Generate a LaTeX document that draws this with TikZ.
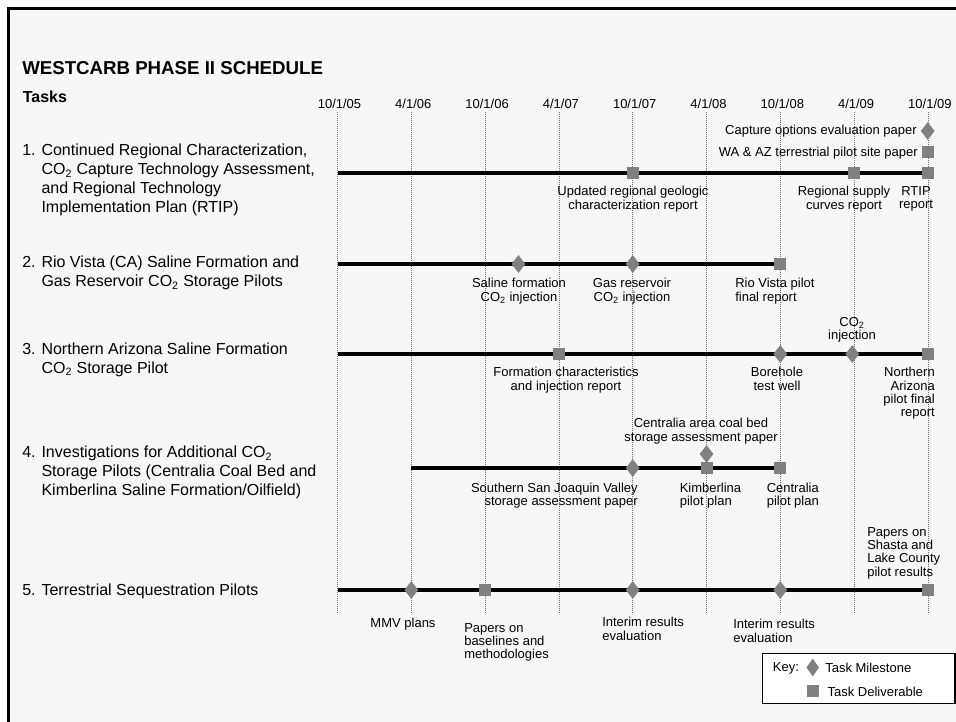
\documentclass[tikz,border=0pt]{standalone}
\usepackage{fontspec}
\setmainfont{Liberation Sans}
\usepackage{xcolor}
\usepackage{tikz}
\usetikzlibrary{shapes.geometric, positioning}
\definecolor{mygrey}{RGB}{128,128,128}
\definecolor{mygrid}{RGB}{110,110,110}
\definecolor{mybg}{RGB}{247,247,247}
\tikzset{
  milestone/.style={diamond, fill=mygrey, draw=none, inner sep=0pt,
    minimum width=10.5pt, minimum height=13.5pt},
  deliverable/.style={rectangle, fill=mygrey, draw=none, inner sep=0pt,
    minimum size=9pt},
  taskbar/.style={line width=2.3pt, color=black},
  gridline/.style={mygrid, line width=0.5pt, dash pattern=on 0.6pt off 0.9pt},
  datelbl/.style={font=\fontsize{9.75}{10}\selectfont, inner sep=0pt},
  lbl/.style={font=\fontsize{9.75}{10}\selectfont, inner sep=0pt, align=center},
  tasklbl/.style={font=\fontsize{12}{14.25}\selectfont, inner sep=0pt,
    align=left, anchor=north west}
}
\newcommand{\cotwo}{CO\textsubscript{2}}

\begin{document}
\begin{tikzpicture}[x=0.75pt, y=-0.75pt]
  \useasboundingbox (0,0) rectangle (956,721);
  \clip (0,0) rectangle (956,721);

  % Frame
  \fill[white] (0,0) rectangle (956,721);
  \fill[mybg] (8.5,8.5) rectangle (980,740);
  \draw[line width=2.4pt] (980,8.5) -- (8.5,8.5) -- (8.5,740);

  % Headings
  \node[anchor=west, inner sep=0pt, font=\fontsize{14}{16}\selectfont\bfseries] (title) at (22,68) {WESTCARB PHASE II SCHEDULE};
  \node[anchor=west, inner sep=0pt, font=\fontsize{12}{14}\selectfont\bfseries] (tasks) at (22.5,97) {Tasks};

  % Dates and grid
  \foreach \dt [count=\i from 0] in {10/1/05,4/1/06,10/1/06,4/1/07,10/1/07,4/1/08,10/1/08,4/1/09,10/1/09} {
    \coordinate (d\i) at ({337.5+73.8*\i},0);
    \node[datelbl] (date\i) at ({339.5+73.8*\i},104) {\dt};
    \draw[gridline] ({337.5+73.8*\i},112) -- ({337.5+73.8*\i},614);
  }

  % Task names
  \node[tasklbl] (task1) at (22,144) {1. Continued Regional Characterization,\\\phantom{1. }\cotwo{} Capture Technology Assessment,\\\phantom{1. }and Regional Technology\\\phantom{1. }Implementation Plan (RTIP)};
  \node[tasklbl] (task2) at (22,256) {2. Rio Vista (CA) Saline Formation and\\\phantom{2. }Gas Reservoir \cotwo{} Storage Pilots};
  \node[tasklbl] (task3) at (22,342.5) {3. Northern Arizona Saline Formation\\\phantom{3. }\cotwo{} Storage Pilot};
  \node[tasklbl] (task4) at (22,446) {4. Investigations for Additional \cotwo\\\phantom{4. }Storage Pilots (Centralia Coal Bed and\\\phantom{4. }Kimberlina Saline Formation/Oilfield)};
  \node[tasklbl] (task5) at (22,584) {5. Terrestrial Sequestration Pilots};

  % Bars
  \coordinate (bar1) at (0,173);
  \coordinate (bar2) at (0,264);
  \coordinate (bar3) at (0,354);
  \coordinate (bar4) at (0,468);
  \coordinate (bar5) at (0,590);
  \draw[taskbar] (d0 |- bar1) -- (d8 |- bar1);
  \draw[taskbar] (d0 |- bar2) -- (d6 |- bar2);
  \draw[taskbar] (d0 |- bar3) -- (d8 |- bar3);
  \draw[taskbar] (d1 |- bar4) -- (d6 |- bar4);
  \draw[taskbar] (d0 |- bar5) -- (d8 |- bar5);

  % Task 1
  \node[milestone] (capopt) at (927.7,131) {};
  \node[deliverable] (waaz) at (927.7,152) {};
  \node[deliverable] (geolog) at (d4 |- bar1) {};
  \node[deliverable] (supply) at (d7 |- bar1) {};
  \node[deliverable] (rtip) at (d8 |- bar1) {};
  \node[lbl, anchor=base east] (capoptlbl) at (917,134) {Capture options evaluation paper};
  \node[lbl, anchor=base east] (waazlbl) at (918,156) {WA \& AZ terrestrial pilot site paper};
  \node[lbl, anchor=north] (geologlbl) at (633,186) {Updated regional geologic\\characterization report};
  \node[lbl, anchor=north] (supplylbl) at (844,186) {Regional supply\\curves report};
  \node[lbl, anchor=north] (rtiplbl) at (916,186) {RTIP\\report};

  % Task 2
  \node[milestone] (salinj) at (518.5,264) {};
  \node[milestone] (gasinj) at (d4 |- bar2) {};
  \node[deliverable] (riofinal) at (d6 |- bar2) {};
  \node[lbl, anchor=north] (salinjlbl) at (519,278) {Saline formation\\\cotwo{} injection};
  \node[lbl, anchor=north] (gasinjlbl) at (632,278) {Gas reservoir\\\cotwo{} injection};
  \node[lbl, anchor=north west, align=left] (riofinallbl) at (735,278) {Rio Vista pilot\\final report};

  % Task 3
  \node[deliverable] (formrep) at (d3 |- bar3) {};
  \node[milestone] (borehole) at (d6 |- bar3) {};
  \node[milestone] (azinj) at (852.3,354) {};
  \node[deliverable] (azfinal) at (d8 |- bar3) {};
  \node[lbl, anchor=north] (azinjlbl) at (852,317) {\cotwo\\injection};
  \node[lbl, anchor=north] (formreplbl) at (566,367) {Formation characteristics\\and injection report};
  \node[lbl, anchor=north] (boreholelbl) at (777,367) {Borehole\\test well};
  \node[lbl, anchor=north east, align=right] (azfinallbl) at (935,367) {Northern\\Arizona\\pilot final\\report};

  % Task 4
  \node[milestone] (ssjv) at (d4 |- bar4) {};
  \node[milestone] (centpaper) at (d5 |- 0,454) {};
  \node[deliverable] (kimplan) at (d5 |- bar4) {};
  \node[deliverable] (centplan) at (d6 |- bar4) {};
  \node[lbl, anchor=north] (centpaperlbl) at (701,418) {Centralia area coal bed\\storage assessment paper};
  \node[lbl, anchor=north east, align=right] (ssjvlbl) at (638,482.5) {Southern San Joaquin Valley\\storage assessment paper};
  \node[lbl, anchor=north west, align=left] (kimplanlbl) at (679.5,482.5) {Kimberlina\\pilot plan};
  \node[lbl, anchor=north west, align=left] (centplanlbl) at (766.5,482.5) {Centralia\\pilot plan};

  % Task 5
  \node[milestone] (mmv) at (d1 |- bar5) {};
  \node[deliverable] (baseline) at (d2 |- bar5) {};
  \node[milestone] (interim1) at (d4 |- bar5) {};
  \node[milestone] (interim2) at (d6 |- bar5) {};
  \node[deliverable] (shasta) at (d8 |- bar5) {};
  \node[lbl, anchor=north west, align=left] (shastalbl) at (867,527) {Papers on\\Shasta and\\Lake County\\pilot results};
  \node[lbl, anchor=north] (mmvlbl) at (403,618) {MMV plans};
  \node[lbl, anchor=north west, align=left] (baselinelbl) at (464,623) {Papers on\\baselines and\\methodologies};
  \node[lbl, anchor=north west, align=left] (interim1lbl) at (602,617) {Interim results\\evaluation};
  \node[lbl, anchor=north west, align=left] (interim2lbl) at (733,619) {Interim results\\evaluation};

  % Key
  \draw[fill=white, line width=0.8pt] (762.7,653.3) rectangle (955,703.3);
  \node[lbl, anchor=west] (keylbl) at (772.7,668) {Key:};
  \node[milestone, minimum width=9.5pt] (keyms) at (812.7,667.5) {};
  \node[lbl, anchor=west] (keymslbl) at (825,668) {Task Milestone};
  \node[deliverable] (keydl) at (812.8,691.2) {};
  \node[lbl, anchor=west] (keydllbl) at (827.3,692) {Task Deliverable};
\end{tikzpicture}
\end{document}
